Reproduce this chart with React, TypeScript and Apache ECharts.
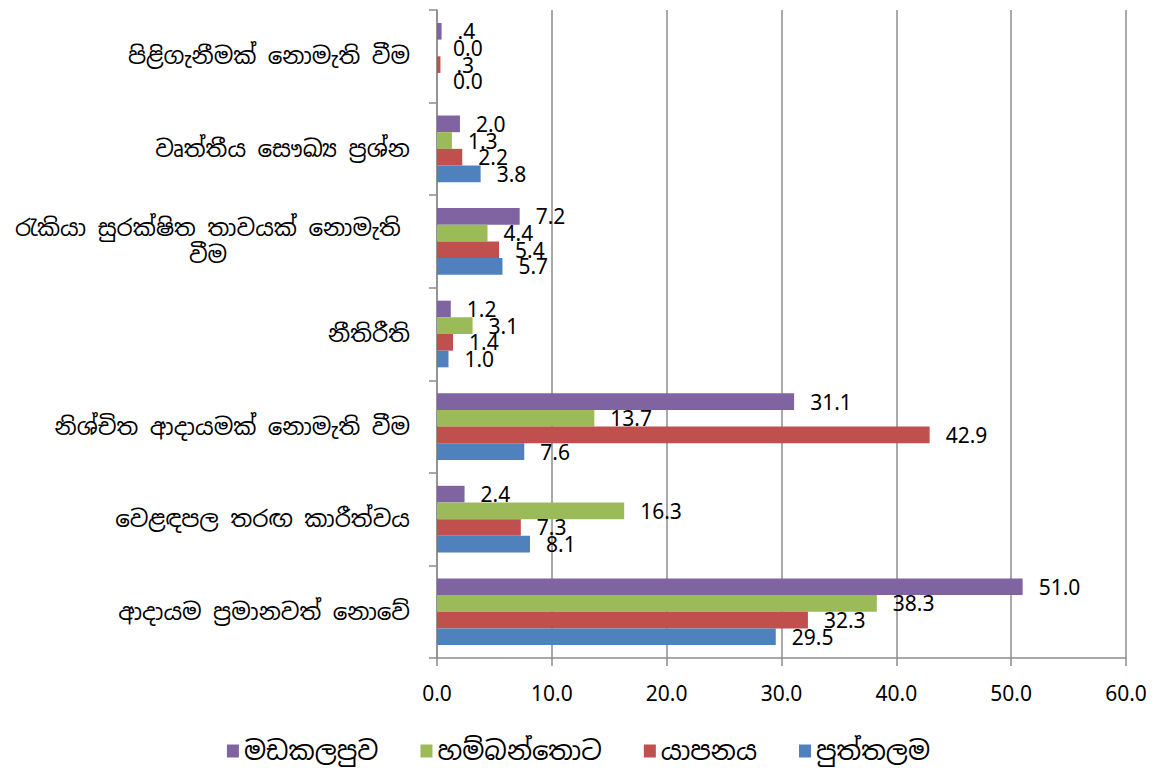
import React, { useEffect, useRef } from "react";
import * as echarts from "echarts";

const categories = [
  "ආදායම ප්‍රමානවත් නොවේ",
  "වෙළඳපල තරඟ කාරීත්වය",
  "නිශ්චිත ආදායමක් නොමැති වීම",
  "නීතිරීති",
  "රැකියා සුරක්ෂිත තාවයක් නොමැති\nවීම",
  "වෘත්තීය සෞඛ්‍ය ප්‍රශ්න",
  "පිළිගැනීමක් නොමැති වීම",
];

const legendOrder = ["මඩකලපුව", "හම්බන්තොට", "යාපනය", "පුත්තලම"];

const puttalam = [29.5, 8.1, 7.6, 1.0, 5.7, 3.8, 0.0];
const jaffna = [32.3, 7.3, 42.9, 1.4, 5.4, 2.2, 0.3];
const hambantota = [38.3, 16.3, 13.7, 3.1, 4.4, 1.3, 0.0];
const batticaloa = [51.0, 2.4, 31.1, 1.2, 7.2, 2.0, 0.4];

// drawn top-to-bottom within each category
const seriesNames = ["මඩකලපුව", "හම්බන්තොට", "යාපනය", "පුත්තලම"];
const seriesValues = [batticaloa, hambantota, jaffna, puttalam];
const colors = ["#8064A2", "#9BBB59", "#C0504D", "#4F81BD"];

const xTicks = { min: 0, max: 60, interval: 10 };

const SINHALA = "'Noto Sans Sinhala', 'Iskoola Pota', 'Noto Sans', sans-serif";
const NUM = "'Liberation Sans Narrow', 'Noto Sans', sans-serif";

function fmt(v: number): string {
  const s = v.toFixed(1);
  return v > 0 && v < 1 ? s.slice(1) : s;
}

export default function App() {
  const ref = useRef<HTMLDivElement>(null);
  useEffect(() => {
    if (!ref.current) return;
    const chart = echarts.init(ref.current, null, { renderer: "svg" });
    const yData = categories.map((c) =>
      c.includes("\n")
        ? { value: c, textStyle: { align: "center", padding: [0, 404, 0, 0] } }
        : c
    );
    chart.setOption({
      animation: false,
      backgroundColor: "#ffffff",
      grid: { left: 437, right: 31, top: 10, bottom: 114, containLabel: false },
      legend: {
        data: legendOrder,
        top: 733,
        left: "center",
        itemWidth: 12,
        itemHeight: 13,
        itemGap: 42,
        icon: "rect",
        textStyle: { fontFamily: SINHALA, fontSize: 26, color: "#000" },
      },
      xAxis: {
        type: "value",
        min: xTicks.min,
        max: xTicks.max,
        interval: xTicks.interval,
        axisLine: { show: true, lineStyle: { color: "#8c8c8c", width: 1.5 } },
        axisTick: { show: true, length: 8, lineStyle: { color: "#8c8c8c", width: 1.5 } },
        splitLine: { show: true, lineStyle: { color: "#8c8c8c", width: 1.5 } },
        axisLabel: {
          formatter: (v: number) => v.toFixed(1),
          fontFamily: NUM,
          fontSize: 21,
          color: "#000",
          margin: 24,
        },
      },
      yAxis: {
        type: "category",
        data: yData,
        axisLine: { show: true, lineStyle: { color: "#8c8c8c", width: 1.5 } },
        axisTick: { show: true, length: 8, lineStyle: { color: "#8c8c8c", width: 1.5 } },
        axisLabel: {
          fontFamily: SINHALA,
          fontSize: 23,
          color: "#000",
          margin: 27,
          lineHeight: 27,
        },
      },
      series: seriesNames.map((name, i) => ({
        name,
        type: "bar",
        data: seriesValues[i],
        barGap: "0%",
        barCategoryGap: "28%",
        itemStyle: { color: colors[i] },
        label: {
          show: true,
          position: "right",
          distance: 16,
          fontFamily: NUM,
          fontSize: 21,
          color: "#000",
          formatter: (p: any) => fmt(p.value),
        },
      })),
    });
    return () => chart.dispose();
  }, []);
  return (
    <div
      ref={ref}
      style={{ position: "fixed", left: 0, top: 0, width: 1157, height: 772 }}
    />
  );
}
